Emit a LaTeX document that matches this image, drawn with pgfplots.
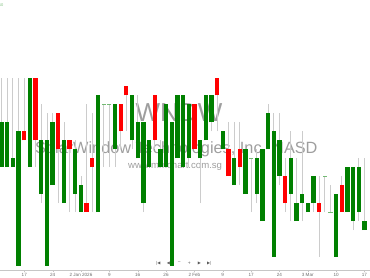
\documentclass[border=0pt]{standalone}
\usepackage{pgfplots}
\pgfplotsset{compat=1.18}
\usepackage{pgfplotstable}
\usepackage{fontspec}
\setmainfont{Liberation Sans}
\newfontfamily\symfont{DejaVu Sans}
\definecolor{cgreen}{RGB}{0,128,0}
\definecolor{cred}{RGB}{255,0,0}
\definecolor{wick}{RGB}{204,204,204}
\definecolor{wm}{RGB}{158,158,158}

% i open high low close  (rising candles)
\pgfplotstableread{
i o h l c
0 11 21 11 16
1 11 21 11 16
2 11 21 11 12
3 0 21 0 15
5 11 21 11 21
7 8 18 7 14
8 0 17 0 14
9 9 17 9 16
11 7 16 7 14
13 8 14 6 13
14 6 10 6 9
17 6 19 6 19
20 13 18 11 18
23 14 19 13 19
24 12 19 12 16
25 7 16 6 16
26 11 14 11 14
28 11 14 11 13
29 11 18 11 18
30 0 16 0 16
31 12 19 12 19
32 11 19 11 19
33 12 18 11 18
35 12 14 7 14
36 14 19 14 19
37 16 19 15 19
39 13 15 13 15
41 9 16 9 12
43 8 13 8 13
45 8 13 7 12
46 5 13 5 13
47 13 18 13 17
48 1 17 1 15
49 10 17 9 14
51 8 15 5 12
52 5 12 5 7
53 7 15 5 8
54 6 7 6 7
55 7 10 6 10
59 1 8 1 8
61 6 11 6 11
62 5 11 4 11
63 6 12 5 11
64 4 12 4 5
}\upT

% falling candles
\pgfplotstableread{
i o h l c
4 15 21 14 14
6 21 21 11 14
10 17 17 7 13
12 14 14 6 13
15 7 18 6 6
16 12 17 6 11
21 18 18 13 15
22 20 20 15 19
27 19 19 13 14
34 18 18 13 13
38 21 21 15 19
40 13 16 10 10
42 13 16 9 11
50 10 12 6 7
56 7 10 1 6
60 9 10 6 6
}\downT

% doji candles
\pgfplotstableread{
i o h l c
18 18 18 11 18
19 18 18 11 18
44 12 12 6 12
57 10 10 6 10
58 6 9 6 6
65 6 6 4 6
}\dojiT

\pgfplotsset{
  ebar/.style 2 args={draw=none, mark=none, forget plot,
    error bars/.cd, y dir=plus, y explicit, error mark=none,
    error bar style={draw=#1, line width=#2}},
}

\begin{document}
\begin{tikzpicture}[x=1pt,y=1pt]
\useasboundingbox (0,0) rectangle (370,278);
% watermark texts (behind the candles)
\node[text=wm, inner sep=0] at (179,165.5)
  {\fontsize{26}{26}\selectfont WNDW};
\node[anchor=base west, text=wm, inner sep=0] at (35,124)
  {\fontsize{16.3}{16.3}\selectfont SolarWindow Technologies, Inc. NASD};
\node[anchor=base west, text=wm, inner sep=0] at (128,109)
  {\fontsize{9.6}{9.6}\selectfont www.mmchart.com.sg};
\begin{axis}[
  at={(0,9)}, anchor=south west,
  scale only axis, width=370pt, height=269pt,
  xmin=-0.28, xmax=64.97, ymin=-0.45, ymax=29.54,
  hide y axis,
  axis x line*=bottom,
  x axis line style={draw=gray!45, -},
  xtick={4,9,14,19,24,29,34,39,44,49,54,59,64},
  xticklabels={17,24,2 Jan 2026,9,16,26,2 Feb,9,17,24,3 Mar,10,17},
  ytick=\empty,
  tick align=outside, major tick length=2pt,
  xtick style={draw=gray!45},
  tick label style={font=\fontsize{4.6}{5}\selectfont, text=gray!85!black},
  xticklabel style={inner sep=1pt},
  /pgf/number format/assume math mode=true,
  clip=true,
]
% wicks
\addplot[ebar={wick}{0.9pt}]
  table[x=i, y=l, y error plus expr=\thisrow{h}-\thisrow{l}] {\upT};
\addplot[ebar={wick}{0.9pt}]
  table[x=i, y=l, y error plus expr=\thisrow{h}-\thisrow{l}] {\downT};
\addplot[ebar={wick}{0.9pt}]
  table[x=i, y=l, y error plus expr=\thisrow{h}-\thisrow{l}] {\dojiT};
% rising bodies
\addplot[ebar={cgreen}{4.3pt}]
  table[x=i, y=o, y error plus expr=\thisrow{c}-\thisrow{o}] {\upT};
% falling bodies
\addplot[ebar={cred}{4.3pt}]
  table[x=i, y=c, y error plus expr=\thisrow{o}-\thisrow{c}] {\downT};
% doji
\addplot[only marks, mark=-, mark size=2.1pt, forget plot,
  mark options={draw=cgreen!55, line width=0.8pt}]
  table[x=i, y=o] {\dojiT};
\end{axis}
% navigation icons
\node[text=gray!70!black, inner sep=0] at (158.3,15) {\symfont\fontsize{4}{4}\selectfont |◀};
\node[text=gray!70!black, inner sep=0] at (168.3,15) {\symfont\fontsize{4}{4}\selectfont ◀};
\node[text=gray!70!black, inner sep=0] at (179.3,15) {\symfont\fontsize{4}{4}\selectfont −};
\node[text=gray!70!black, inner sep=0] at (189.3,15) {\symfont\fontsize{4}{4}\selectfont +};
\node[text=gray!70!black, inner sep=0] at (199.3,15) {\symfont\fontsize{4}{4}\selectfont ▶};
\node[text=gray!70!black, inner sep=0] at (209.3,15) {\symfont\fontsize{4}{4}\selectfont ▶|};
% partial label at top left
\node[anchor=east, text=cgreen!50, inner sep=0] at (3.5,272.5) {\fontsize{4}{4}\selectfont 50};
\end{tikzpicture}
\end{document}
